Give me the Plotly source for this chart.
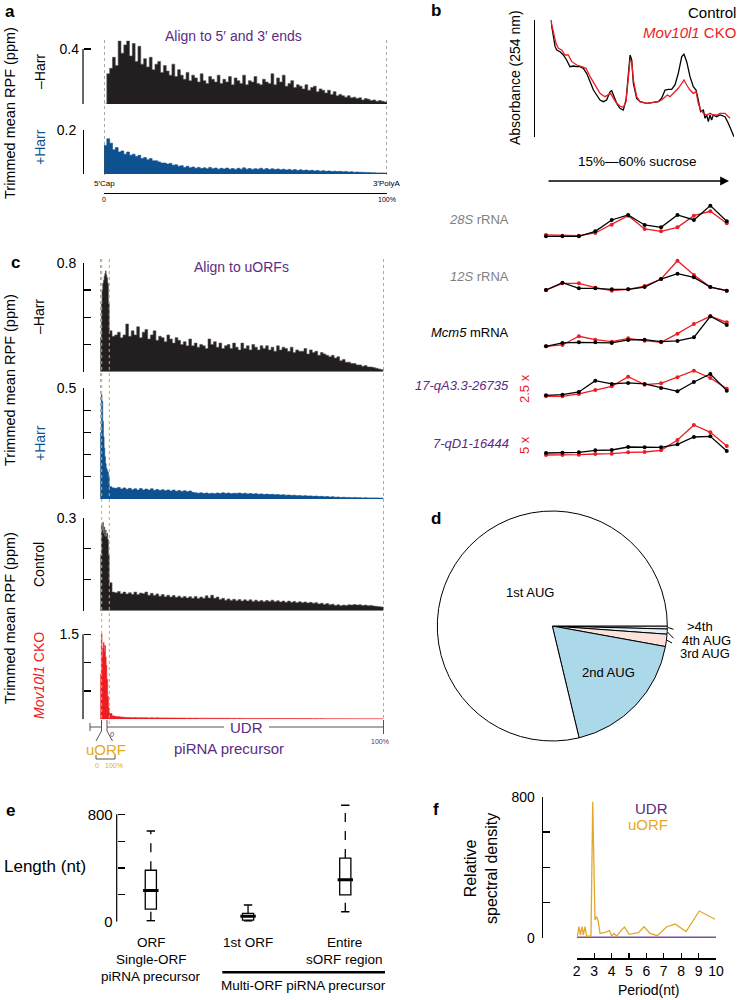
import numpy as np
import plotly.graph_objects as go

W, H = 741, 1000
FONT = "Liberation Sans, Arial, Helvetica, sans-serif"
BLACK = "#231f20"
BLUE = "#0d5191"
RED = "#ec1c24"
PURPLE = "#5b2c84"
ORANGE = "#e8a823"
GRAY = "#808080"

# ---------------- data ----------------
# panel a: metagene profiles aligned to 5' cap .. 3' polyA (0..100 %)
A_MINUS_HARR = [
    0.00, 0.22, 0.26, 0.34, 0.28, 0.46, 0.37, 0.43, 0.46, 0.35,
    0.44, 0.31, 0.42, 0.29, 0.33, 0.27, 0.34, 0.25, 0.29, 0.31,
    0.23, 0.28, 0.24, 0.21, 0.29, 0.20, 0.25, 0.21, 0.18, 0.23,
    0.17, 0.21, 0.19, 0.16, 0.22, 0.17, 0.15, 0.20, 0.18, 0.16,
    0.21, 0.15, 0.18, 0.16, 0.20, 0.14, 0.19, 0.17, 0.15, 0.21,
    0.14, 0.17, 0.16, 0.20, 0.15, 0.14, 0.18, 0.16, 0.15, 0.22,
    0.14, 0.19, 0.16, 0.21, 0.13, 0.15, 0.17, 0.12, 0.14, 0.13,
    0.11, 0.14, 0.10, 0.12, 0.13, 0.09, 0.11, 0.10, 0.08, 0.10,
    0.07, 0.09, 0.06, 0.07, 0.06, 0.05, 0.06, 0.045, 0.05, 0.04,
    0.045, 0.03, 0.04, 0.035, 0.025, 0.03, 0.02, 0.025, 0.02, 0.015,
    0.01]
A_PLUS_HARR = [
    0.13, 0.16, 0.14, 0.11, 0.12, 0.10, 0.105, 0.09, 0.10, 0.085,
    0.09, 0.08, 0.085, 0.07, 0.075, 0.065, 0.07, 0.06, 0.06, 0.055,
    0.05, 0.05, 0.045, 0.048, 0.04, 0.042, 0.035, 0.038, 0.03, 0.035,
    0.028, 0.032, 0.026, 0.03, 0.025, 0.028, 0.024, 0.03, 0.024, 0.027,
    0.022, 0.026, 0.023, 0.027, 0.022, 0.025, 0.021, 0.026, 0.022, 0.028,
    0.022, 0.025, 0.021, 0.024, 0.022, 0.026, 0.021, 0.025, 0.02, 0.024,
    0.02, 0.023, 0.019, 0.022, 0.018, 0.021, 0.017, 0.02, 0.016, 0.019,
    0.016, 0.018, 0.015, 0.017, 0.014, 0.016, 0.013, 0.015, 0.012, 0.014,
    0.011, 0.013, 0.011, 0.012, 0.01, 0.011, 0.009, 0.01, 0.008, 0.009,
    0.008, 0.008, 0.007, 0.007, 0.006, 0.006, 0.005, 0.005, 0.005, 0.004,
    0.004]

# panel b: absorbance profile (position along gradient %, absorbance a.u.)
ABS_CTRL_X = [0, 1.1, 2.4, 3.3, 5.1, 6.9, 8.7, 10.5, 12.4, 14.2, 16, 17.8, 19.6, 21.5, 23.3,
              25.1, 26.9, 28.7, 30.5, 32.4, 33.3, 34.2, 36, 37.8, 39.6, 41.1, 42.4, 43.3, 44.2,
              45.1, 46.9, 48.7, 52.4, 56, 58.7, 60.5, 62.4, 64.2, 66, 67.8, 69.6, 71.5, 72.7,
              74.2, 76, 77.8, 79.3, 80.5, 81.8, 83.3, 84.2, 85.1, 86, 86.9, 87.8, 88.7, 90.5,
              92.4, 95.1, 96.9, 98.7, 100]
ABS_CTRL_Y = [360, 320, 280, 270, 265, 255, 240, 220, 222, 220, 220, 215, 200, 175, 150,
              135, 120, 115, 120, 145, 148, 135, 110, 95, 90, 120, 200, 255, 240,
              170, 125, 115, 110, 112, 115, 125, 150, 152, 152, 165, 200, 250, 257,
              235, 190, 160, 150, 120, 85, 90, 65, 75, 55, 75, 60, 75, 70,
              75, 70, 50, 25, 10]
ABS_CKO_X = [0, 1.5, 2.9, 4.2, 6, 7.8, 9.6, 11.5, 14.2, 16.9, 19.3, 21.5, 24.2, 26.9, 29.6,
             31.5, 32.7, 34.2, 36, 37.8, 39.6, 41.1, 42.4, 43.3, 44.2, 45.1, 46.9, 48.7, 52.4,
             56, 58.7, 60.5, 62.4, 63.6, 65.1, 66.9, 69.6, 71.5, 72.7, 74.2, 76, 77.8, 79.3,
             80.5, 81.8, 83.3, 85.1, 86.9, 88.7, 90.5, 92.4, 95.1, 96.9, 97.8]
ABS_CKO_Y = [360, 320, 290, 275, 270, 255, 255, 235, 225, 220, 215, 190, 165, 140, 130,
             135, 140, 125, 110, 102, 98, 115, 190, 240, 235, 180, 130, 115, 110,
             112, 115, 120, 130, 135, 130, 140, 155, 170, 180, 165, 150, 140, 145,
             110, 90, 80, 75, 80, 75, 75, 80, 80, 70, 65]

# panel b: gradient fractions (1..12), relative abundance
FRACTIONS = list(range(1, 13))
ROW_NAMES = ["28S", "12S", "Mcm5", "17-qA3.3-26735", "7-qD1-16444"]
ROW_CTRL = [
    [3, 3, 3, 18, 52, 67, 37, 30, 67, 52, 95, 48],
    [5, 27, 10, 10, 7, 7, 14, 38, 54, 43, 14, 3],
    [3, 13, 15, 15, 13, 22, 23, 17, 19, 30, 93, 67],
    [6, 8, 16, 50, 40, 43, 40, 28, 18, 46, 70, 20],
    [9, 10, 11, 17, 18, 27, 26, 26, 35, 57, 59, 15],
]
ROW_CKO = [
    [7, 5, 5, 13, 38, 65, 25, 18, 30, 65, 78, 42],
    [5, 25, 25, 12, 3, 7, 17, 38, 93, 50, 14, 3],
    [3, 7, 33, 23, 17, 27, 20, 15, 41, 70, 93, 75],
    [3, 3, 10, 22, 33, 62, 38, 42, 60, 80, 58, 26],
    [3, 3, 4, 6, 7, 11, 12, 17, 48, 93, 71, 30],
]

# panel c: positions (uORF region in UDR-% units, then UDR 0..100 %)
C_UORF_POS = [-3.39, -3.15, -2.9, -2.65, -2.4, -2.15, -1.9, -1.65, -1.4, -1.15, -0.9, -0.6, -0.3]
C_UDR_POS = list(range(0, 101))
C_MH_UORF = [0.0, 0.25, 0.5, 0.6, 0.65, 0.67, 0.70, 0.72, 0.74, 0.71, 0.69, 0.65, 0.5]
C_MH_UDR = [
    0.30, 0.26, 0.27, 0.29, 0.25, 0.27, 0.35, 0.26, 0.30, 0.27,
    0.33, 0.25, 0.29, 0.31, 0.24, 0.27, 0.30, 0.23, 0.26, 0.25,
    0.22, 0.27, 0.24, 0.21, 0.25, 0.23, 0.20, 0.22, 0.19, 0.24,
    0.19, 0.21, 0.18, 0.20, 0.19, 0.17, 0.24, 0.20, 0.22, 0.18,
    0.21, 0.17, 0.19, 0.20, 0.17, 0.21, 0.18, 0.16, 0.21, 0.17,
    0.19, 0.16, 0.20, 0.18, 0.16, 0.19, 0.17, 0.19, 0.16, 0.18,
    0.15, 0.19, 0.16, 0.18, 0.17, 0.15, 0.18, 0.14, 0.16, 0.15,
    0.15, 0.17, 0.13, 0.16, 0.14, 0.15, 0.12, 0.14, 0.13, 0.12,
    0.11, 0.12, 0.10, 0.11, 0.08, 0.09, 0.07, 0.07, 0.06, 0.06,
    0.05, 0.05, 0.04, 0.045, 0.035, 0.035, 0.03, 0.025, 0.02, 0.015,
    0.012]
C_PH_UORF = [0.0, 0.3, 0.47, 0.44, 0.35, 0.28, 0.23, 0.19, 0.16, 0.14, 0.13, 0.12, 0.10]
C_PH_UDR = [
    0.055, 0.05, 0.048, 0.052, 0.045, 0.05, 0.044, 0.048, 0.042, 0.046,
    0.04, 0.047, 0.041, 0.045, 0.04, 0.046, 0.039, 0.043, 0.038, 0.042,
    0.037, 0.041, 0.036, 0.04, 0.035, 0.038, 0.034, 0.037, 0.033, 0.036,
    0.03, 0.028, 0.026, 0.028, 0.025, 0.027, 0.024, 0.026, 0.024, 0.027,
    0.025, 0.028, 0.025, 0.027, 0.024, 0.026, 0.025, 0.027, 0.024, 0.026,
    0.023, 0.025, 0.022, 0.024, 0.021, 0.023, 0.02, 0.022, 0.02, 0.021,
    0.019, 0.02, 0.018, 0.019, 0.017, 0.018, 0.016, 0.017, 0.015, 0.016,
    0.014, 0.015, 0.013, 0.014, 0.012, 0.013, 0.011, 0.012, 0.01, 0.011,
    0.009, 0.01, 0.008, 0.009, 0.007, 0.008, 0.007, 0.007, 0.006, 0.007,
    0.006, 0.006, 0.005, 0.006, 0.005, 0.005, 0.005, 0.005, 0.004, 0.004,
    0.004]
C_CT_UORF = [0.0, 0.18, 0.28, 0.26, 0.285, 0.25, 0.27, 0.24, 0.26, 0.24, 0.25, 0.23, 0.18]
C_CT_UDR = [
    0.09, 0.06, 0.058, 0.062, 0.055, 0.06, 0.054, 0.058, 0.053, 0.06,
    0.052, 0.057, 0.055, 0.06, 0.05, 0.056, 0.049, 0.054, 0.047, 0.052,
    0.045, 0.05, 0.044, 0.049, 0.043, 0.047, 0.042, 0.046, 0.041, 0.045,
    0.040, 0.046, 0.039, 0.044, 0.040, 0.048, 0.041, 0.050, 0.040, 0.044,
    0.036, 0.040, 0.034, 0.038, 0.033, 0.037, 0.032, 0.036, 0.031, 0.035,
    0.031, 0.035, 0.030, 0.034, 0.030, 0.033, 0.029, 0.033, 0.030, 0.034,
    0.029, 0.032, 0.028, 0.031, 0.027, 0.031, 0.027, 0.030, 0.026, 0.029,
    0.026, 0.028, 0.025, 0.027, 0.024, 0.026, 0.022, 0.024, 0.020, 0.023,
    0.019, 0.021, 0.017, 0.019, 0.016, 0.018, 0.017, 0.019, 0.018, 0.020,
    0.018, 0.019, 0.017, 0.018, 0.016, 0.017, 0.015, 0.014, 0.013, 0.012,
    0.010]
C_KO_UORF = [0.0, 0.8, 1.5, 1.1, 1.25, 1.35, 1.2, 1.3, 1.1, 0.95, 0.7, 0.4, 0.2]
C_KO_UDR = [
    0.10, 0.06, 0.05, 0.045, 0.04, 0.035, 0.03, 0.032, 0.028, 0.03,
    0.027, 0.029, 0.026, 0.028, 0.025, 0.027, 0.024, 0.026, 0.023, 0.025,
    0.023, 0.024, 0.022, 0.023, 0.021, 0.022, 0.021, 0.022, 0.020, 0.021,
    0.020, 0.021, 0.019, 0.020, 0.019, 0.020, 0.018, 0.019, 0.018, 0.019,
    0.017, 0.018, 0.017, 0.018, 0.016, 0.017, 0.016, 0.017, 0.016, 0.016,
    0.015, 0.016, 0.015, 0.016, 0.015, 0.015, 0.014, 0.015, 0.014, 0.015,
    0.014, 0.014, 0.013, 0.014, 0.013, 0.014, 0.013, 0.013, 0.012, 0.013,
    0.012, 0.013, 0.012, 0.012, 0.011, 0.012, 0.011, 0.012, 0.011, 0.011,
    0.010, 0.011, 0.010, 0.011, 0.010, 0.010, 0.010, 0.010, 0.009, 0.010,
    0.009, 0.009, 0.009, 0.009, 0.008, 0.009, 0.008, 0.008, 0.008, 0.008,
    0.008]

# panel d: pie of start codon usage (%)
PIE_LABELS = [">4th", "4th AUG", "3rd AUG", "2nd AUG", "1st AUG"]
PIE_VALUES = [0.42, 0.72, 1.72, 18.4, 78.74]
PIE_COLORS = ["#ebe8f5", "#e2f3f8", "#fbe3dc", "#acd9e9", "#ffffff"]

# panel e: length boxplots (nt)
BOX_POS = [1, 2, 3]
BOX_LOW = [7, 5, 74]
BOX_Q1 = [94, 12, 199]
BOX_MED = [233, 40, 313]
BOX_Q3 = [383, 62, 474]
BOX_HIGH = [676, 124, 867]

# panel f: spectral density vs period
F_UORF_PERIOD = [2.04, 2.13, 2.21, 2.31, 2.38, 2.48, 2.57, 2.82, 2.92, 3.05, 3.15, 3.24, 3.34,
                 3.63, 3.88, 4.01, 4.14, 4.30, 4.49, 4.74, 5.02, 5.54, 5.87, 6.21, 6.63, 7.17,
                 7.65, 8.28, 9.04, 9.94]
F_UORF_DENS = [11, 64, 17, 64, 17, 64, 11, 11, 772, 102, 121, 92, 26,
               32, 42, 11, 26, 11, 36, 62, 21, 30, 64, 26, 13, 64,
               79, 36, 153, 106]
F_UDR_PERIOD = [2, 3, 4, 5, 6, 7, 8, 9, 10]
F_UDR_DENS = [4, 4, 4, 4, 4, 4, 4, 4, 4]


# ---------------- helpers ----------------
def px(x):
    return x / W


def py(y):
    return 1 - y / H


annotations = []
shapes = []


def T(x, y, text, size=13, color="black", xa="center", ya="middle", angle=0):
    annotations.append(dict(x=px(x), y=py(y), xref="paper", yref="paper", text=text,
                            showarrow=False, textangle=angle, xanchor=xa, yanchor=ya,
                            font=dict(family=FONT, size=size, color=color)))


def L(x0, y0, x1, y1, color="black", width=1, dash="solid"):
    shapes.append(dict(type="line", xref="paper", yref="paper", x0=px(x0), y0=py(y0),
                       x1=px(x1), y1=py(y1), line=dict(color=color, width=width, dash=dash)))


fig = go.Figure()
layout = dict(width=W, height=H, margin=dict(l=0, r=0, t=0, b=0, autoexpand=False),
              paper_bgcolor="white", plot_bgcolor="rgba(0,0,0,0)", showlegend=False,
              font=dict(family=FONT, color="black"))

hidden = dict(visible=False, showgrid=False, zeroline=False, fixedrange=True,
              automargin=False)


def yax(domain, rng, pos, tickvals, ticktext, showline=True, size=14, standoff=4):
    return dict(domain=domain, range=rng, anchor="free", position=pos, showline=showline,
                linecolor="black", linewidth=1.2, ticks="inside", ticklen=7, tickwidth=1.2,
                tickcolor="black", tickvals=tickvals, ticktext=ticktext, showgrid=False,
                zeroline=False, tickfont=dict(family=FONT, size=size, color="black"),
                ticklabelstandoff=standoff, fixedrange=True, automargin=False)


def fill_trace(x, y, color, xa, ya, lw=0.6, lc=None):
    return go.Scatter(x=x, y=y, mode="lines", fill="tozeroy", fillcolor=color,
                      line=dict(color=lc or color, width=lw, shape="hv"), xaxis=xa, yaxis=ya,
                      hoverinfo="skip")


# ---------------- panel a ----------------
a_pos = list(np.linspace(0, 100, len(A_MINUS_HARR)))
fig.add_trace(fill_trace(a_pos, A_MINUS_HARR, BLACK, "x", "y", lc="#555555"))
fig.add_trace(fill_trace(a_pos, A_PLUS_HARR, BLUE, "x2", "y2"))
layout["xaxis"] = dict(hidden, domain=[px(104), px(387)], range=[0, 100], anchor="y")
layout["yaxis"] = yax([py(104), py(40.75)], [0, 0.46], px(83), [0, 0.4], ["", "0.4"],
                      showline=False)
shapes.append(dict(type="line", xref="paper", yref="y", x0=px(83), x1=px(83), y0=0, y1=0.4,
                   line=dict(color="black", width=1.2)))
layout["xaxis2"] = dict(domain=[px(104), px(387)], range=[0, 100], anchor="free",
                        position=py(193), showline=True, linecolor="black", linewidth=1,
                        ticks="inside", ticklen=4, tickcolor="black", tickvals=[0, 100],
                        ticktext=["0", "100%"], tickfont=dict(family=FONT, size=7),
                        showgrid=False, zeroline=False, fixedrange=True, automargin=False)
layout["yaxis2"] = yax([py(174), py(130)], [0, 0.2], px(83), [0, 0.2], ["", "0.2"])
for xv in (0, 100):
    shapes.append(dict(type="line", xref="x", yref="paper", x0=xv, x1=xv, y0=py(40),
                       y1=py(176), line=dict(color="#555555", width=1, dash="dot")))

T(10, 11, "<b>a</b>", 17)
T(233, 36, "Align to 5′ and 3′ ends", 14, PURPLE)
T(10, 113, "Trimmed mean RPF (ppm)", 14.5, angle=-90)
T(40, 72, "–Harr", 14, angle=-90)
T(40, 147, "+Harr", 14, BLUE, angle=-90)
T(104, 183, "5′Cap", 8)
T(387, 183, "3′PolyA", 8)

# ---------------- panel b ----------------
fig.add_trace(go.Scatter(x=ABS_CTRL_X, y=ABS_CTRL_Y, mode="lines",
                         line=dict(color="black", width=1.3), xaxis="x3", yaxis="y3"))
fig.add_trace(go.Scatter(x=ABS_CKO_X, y=ABS_CKO_Y, mode="lines",
                         line=dict(color=RED, width=1.3), xaxis="x3", yaxis="y3"))
layout["xaxis3"] = dict(hidden, domain=[px(550.7), px(734)], range=[0, 100], anchor="y3")
layout["yaxis3"] = dict(domain=[py(137), py(20)], range=[9, 360], anchor="free",
                        position=px(534), showline=True, linecolor="black", linewidth=1.2,
                        ticks="", showticklabels=False, showgrid=False, zeroline=False,
                        fixedrange=True, automargin=False)
T(436, 10, "<b>b</b>", 17)
T(738, 12, "Control", 15, "black", xa="right")
T(738, 32, "<i>Mov10l1</i> CKO", 15, RED, xa="right")
T(515, 78, "Absorbance (254 nm)", 14, angle=-90)
T(637, 161, "15%—60% sucrose", 13.5)
annotations.append(dict(x=px(729), y=py(181), xref="paper", yref="paper", text="",
                        showarrow=True, ax=-182, ay=0, arrowhead=2, arrowsize=1.1,
                        arrowwidth=1.6, arrowcolor="black"))

row_base = [237.3, 291.7, 347.3, 397.3, 456]
row_label_y = [220, 276, 332, 385, 443]
row_texts = ["<i>28S</i> rRNA", "<i>12S</i> rRNA", "<i>Mcm5</i> mRNA",
             "<i>17-qA3.3-26735</i>", "<i>7-qD1-16444</i>"]
row_colors = [GRAY, GRAY, "black", PURPLE, PURPLE]
for i in range(len(ROW_NAMES)):
    k = 4 + i
    xa, ya = "x%d" % k, "y%d" % k
    fig.add_trace(go.Scatter(x=FRACTIONS, y=ROW_CKO[i], mode="lines+markers",
                             line=dict(color=RED, width=1.3),
                             marker=dict(color=RED, size=4), xaxis=xa, yaxis=ya))
    fig.add_trace(go.Scatter(x=FRACTIONS, y=ROW_CTRL[i], mode="lines+markers",
                             line=dict(color="black", width=1.3),
                             marker=dict(color="black", size=4), xaxis=xa, yaxis=ya))
    b = row_base[i]
    layout["xaxis%d" % k] = dict(hidden, domain=[px(538), px(734)], range=[0.513, 12.44],
                                 anchor=ya)
    layout["yaxis%d" % k] = dict(hidden, domain=[py(b + 3), py(b - 35)], range=[-9, 105],
                                 anchor=xa)
    T(511, row_label_y[i], row_texts[i], 13, row_colors[i], xa="right")
T(524, 389, "2.5 x", 13, RED, angle=-90)
T(524, 445, "5 x", 13, RED, angle=-90)

# ---------------- panel c ----------------
c_x = C_UORF_POS + C_UDR_POS
c_sets = [(C_MH_UORF + C_MH_UDR, BLACK, [py(371.7), py(262.7)], [0, 0.8],
           [0, 0.2, 0.4, 0.6, 0.8], ["", "", "", "", "0.8"]),
          (C_PH_UORF + C_PH_UDR, BLUE, [py(499), py(388)], [0, 0.5],
           [0, 0.1, 0.2, 0.3, 0.4, 0.5], ["", "", "", "", "", "0.5"]),
          (C_CT_UORF + C_CT_UDR, BLACK, [py(610.7), py(517.7)], [0, 0.3],
           [0, 0.1, 0.2, 0.3], ["", "", "", "0.3"]),
          (C_KO_UORF + C_KO_UDR, RED, [py(719.3), py(633)], [0, 1.52],
           [0, 0.5, 1.0, 1.5], ["", "", "", "1.5"])]
for j, (vals, col, dom, rng, tv, tt) in enumerate(c_sets):
    k = 9 + j
    xa, ya = "x%d" % k, "y%d" % k
    fig.add_trace(fill_trace(c_x, vals, col, xa, ya,
                             lc="#555555" if col == BLACK else col))
    layout["xaxis%d" % k] = dict(hidden, domain=[px(100), px(383.5)], range=[-3.39, 100],
                                 anchor=ya)
    layout["yaxis%d" % k] = yax(dom, rng, px(83), tv, tt)
    if j == 3:
        layout["yaxis%d" % k]["showline"] = False
        shapes.append(dict(type="line", xref="paper", yref=ya, x0=px(83), x1=px(83),
                           y0=0, y1=1.5, line=dict(color="black", width=1.2)))

# dotted guide lines
shapes.append(dict(type="line", xref="x9", yref="paper", x0=-3.39, x1=-3.39, y0=py(259),
                   y1=py(499), line=dict(color="#555555", width=1, dash="dot")))
shapes.append(dict(type="line", xref="x9", yref="paper", x0=100, x1=100, y0=py(259),
                   y1=py(720), line=dict(color="#555555", width=1, dash="dot")))
for xv in (-2.77, 0):
    shapes.append(dict(type="line", xref="x9", yref="paper", x0=xv, x1=xv, y0=py(259),
                       y1=py(724), line=dict(color=ORANGE, width=1, dash="dot")))

T(15, 262, "<b>c</b>", 17)
T(242, 267, "Align to uORFs", 14, PURPLE)
T(10, 380, "Trimmed mean RPF (ppm)", 14.5, angle=-90)
T(10, 618, "Trimmed mean RPF (ppm)", 14.5, angle=-90)
T(39, 317, "–Harr", 14, angle=-90)
T(40, 443, "+Harr", 14, BLUE, angle=-90)
T(39, 565, "Control", 14, angle=-90)
T(39, 676, "<i>Mov10l1</i> CKO", 14, RED, angle=-90)

# UDR / uORF schematic axis
UC = "#555555"
L(90, 727, 101.5, 727, UC, 1)
L(90, 723, 90, 731, UC, 1)
L(107, 727, 224, 727, UC, 1)
L(269, 727, 383.5, 727, UC, 1)
L(383.5, 720, 383.5, 734, UC, 1)
L(101.5, 720, 101.5, 731, UC, 1)
L(107, 720, 107, 731, UC, 1)
L(101.5, 731, 96, 741, UC, 1)
L(107, 731, 112.5, 741, UC, 1)
L(96, 755, 96, 759, UC, 1)
L(96, 759, 115, 759, UC, 1)
L(115, 755, 115, 759, UC, 1)
T(246.5, 727, "UDR", 15, PURPLE)
T(229, 748, "piRNA precursor", 15, PURPLE)
T(112.5, 734, "<i>0</i>", 7, PURPLE)
T(380, 741, "100%", 7, PURPLE)
T(106, 749, "uORF", 15, ORANGE)
T(96.5, 765, "0", 7, ORANGE)
T(114, 765, "100%", 7, ORANGE)

# ---------------- panel d ----------------
fig.add_trace(go.Pie(labels=PIE_LABELS, values=PIE_VALUES, sort=False, direction="clockwise",
                     rotation=90, textinfo="none", hoverinfo="skip", automargin=False,
                     marker=dict(colors=PIE_COLORS, line=dict(color="black", width=1)),
                     domain=dict(x=[px(437.3), px(667.3)], y=[py(741), py(511)])))
T(436, 518, "<b>d</b>", 17)
T(530, 592, "1st AUG", 13)
T(608, 672, "2nd AUG", 13)
T(685, 626, ">4th", 13, xa="left")
T(680, 640, "4th AUG", 13, xa="left")
T(678, 653, "3rd AUG", 13, xa="left")
L(668, 627.5, 673.5, 629.3, "black", 1)
L(667.5, 632, 673.5, 638.3, "black", 1)
L(666.5, 640, 672, 643, "black", 1)

# ---------------- panel e ----------------
for i in range(len(BOX_POS)):
    fig.add_trace(go.Box(x=[BOX_POS[i]], q1=[BOX_Q1[i]], median=[BOX_MED[i]],
                         q3=[BOX_Q3[i]], lowerfence=[BOX_Q1[i]], upperfence=[BOX_Q3[i]],
                         width=0.115, fillcolor="white", whiskerwidth=0,
                         line=dict(color="black", width=1.3), boxpoints=False,
                         xaxis="x13", yaxis="y13", hoverinfo="skip"))
    fig.add_trace(go.Scatter(x=[BOX_POS[i]] * 2, y=[BOX_Q3[i], BOX_HIGH[i]], mode="lines",
                             line=dict(color="black", width=1.3, dash="dash"),
                             xaxis="x13", yaxis="y13"))
    fig.add_trace(go.Scatter(x=[BOX_POS[i]] * 2, y=[BOX_LOW[i], BOX_Q1[i]], mode="lines",
                             line=dict(color="black", width=1.3, dash="dash"),
                             xaxis="x13", yaxis="y13"))
fig.add_trace(go.Scatter(x=BOX_POS + BOX_POS, y=BOX_LOW + BOX_HIGH, mode="markers",
                         marker=dict(symbol="line-ew", size=6,
                                     line=dict(color="black", width=1.5)),
                         xaxis="x13", yaxis="y13"))
fig.add_trace(go.Scatter(x=BOX_POS, y=BOX_MED, mode="markers",
                         marker=dict(symbol="line-ew", size=11,
                                     line=dict(color="black", width=3)),
                         xaxis="x13", yaxis="y13"))
layout["xaxis13"] = dict(hidden, domain=[px(116.7), px(390)], range=[0.649, 3.46],
                         anchor="y13")
layout["yaxis13"] = yax([py(921.7), py(803.5)], [0, 880], px(116.7),
                        [0, 200, 400, 600, 800], ["0", "", "", "", "800"], showline=False,
                        size=15)
shapes.append(dict(type="line", xref="paper", yref="y13", x0=px(116.7), x1=px(116.7),
                   y0=0, y1=800, line=dict(color="black", width=1.2)))
T(10, 810, "<b>e</b>", 17)
T(45, 866, "Length (nt)", 17)
T(151, 942, "ORF", 13.5)
T(151, 959, "Single-ORF", 13.5)
T(151, 976.5, "piRNA precursor", 13.5)
T(248, 942, "1st ORF", 13.5)
T(344.5, 942, "Entire", 13.5)
T(344.5, 959, "sORF region", 13.5)
L(222.3, 972.3, 385, 972.3, "black", 2.5)
T(303.5, 985.5, "Multi-ORF piRNA precursor", 13.5)

# ---------------- panel f ----------------
fig.add_trace(go.Scatter(x=F_UDR_PERIOD, y=F_UDR_DENS, mode="lines",
                         line=dict(color="#7a4fa3", width=1.5), xaxis="x14", yaxis="y14"))
fig.add_trace(go.Scatter(x=F_UORF_PERIOD, y=F_UORF_DENS, mode="lines",
                         line=dict(color="#e3a82b", width=1.3), xaxis="x14", yaxis="y14"))
layout["xaxis14"] = dict(domain=[px(576.7), px(716)], range=[2, 10], anchor="free",
                         position=py(958.3), showline=True, linecolor="black", linewidth=1.2,
                         ticks="inside", ticklen=5, tickwidth=1.2, tickcolor="black",
                         tickvals=list(range(2, 11)), showgrid=False, zeroline=False,
                         tickfont=dict(family=FONT, size=14), fixedrange=True,
                         automargin=False)
layout["yaxis14"] = yax([py(938), py(796.7)], [0, 800], px(541.7),
                        [0, 200, 400, 600, 800], ["0", "", "", "", "800"], size=14)
T(436, 809, "<b>f</b>", 17)
T(481, 869, "Relative<br>spectral density", 16, angle=-90)
T(670, 808, "UDR", 15, PURPLE, xa="right")
T(670, 824, "uORF", 15, ORANGE, xa="right")
T(648, 989.5, "Period(nt)", 14)

layout["annotations"] = annotations
layout["shapes"] = shapes
fig.update_layout(**layout)
fig.write_html("out.html", config={"displayModeBar": False, "staticPlot": True},
               post_script="document.body.style.margin='0px';"
                           "document.body.style.padding='0px';"
                           "document.body.style.overflow='hidden';")
